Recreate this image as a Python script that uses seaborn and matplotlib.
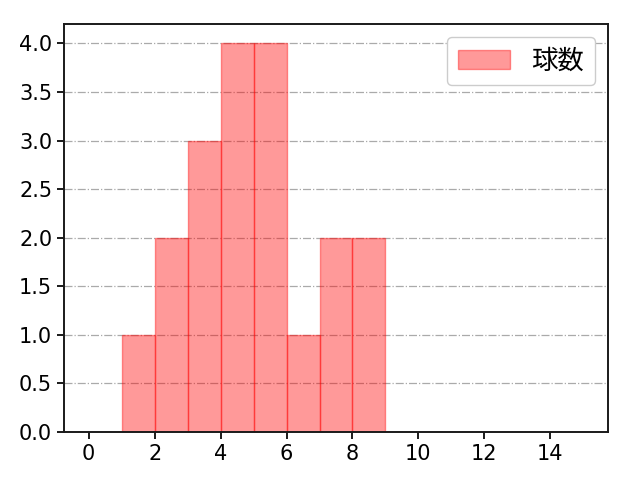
import numpy as np
import pandas as pd
import matplotlib
matplotlib.use("Agg")
import matplotlib.pyplot as plt
import seaborn as sns

# pitch-count histogram: bin centres and counts
bin_centers = [1.5, 2.5, 3.5, 4.5, 5.5, 6.5, 7.5, 8.5]
counts = [1, 2, 3, 4, 4, 1, 2, 2]
bin_edges = [1, 2, 3, 4, 5, 6, 7, 8, 9]
xticks = [0, 2, 4, 6, 8, 10, 12, 14]
label = "球数"

sns.set_style("white")
plt.rcParams['font.family'] = ['DejaVu Sans', 'Noto Sans CJK JP']
plt.rcParams['font.size'] = 15
plt.rcParams['text.color'] = 'black'
plt.rcParams['xtick.color'] = 'black'
plt.rcParams['ytick.color'] = 'black'

df = pd.DataFrame({"x": bin_centers, "w": counts})

fig = plt.figure(figsize=(6.4, 4.8), dpi=100)
ax = fig.add_axes([0.1, 0.1, 0.85, 0.85])
sns.histplot(data=df, x="x", weights="w", bins=bin_edges, stat="count",
             color="red", alpha=0.4, edgecolor="red", linewidth=1,
             label=label, ax=ax)
# make edge share the patch alpha like plt.hist
for p in ax.patches:
    p.set_facecolor((1, 0, 0, 0.4))
    p.set_edgecolor((1, 0, 0, 0.4))

ax.set_xlim(-0.75, 15.75)
ax.set_ylim(0, 4.2)
ax.set_xticks(xticks)
ax.set_yticks(np.arange(0, 4.01, 0.5))
ax.yaxis.grid(True, linestyle="-.", color="#aaaaaa", linewidth=0.9)
ax.xaxis.grid(False)
ax.set_axisbelow(True)
ax.set_xlabel("")
ax.set_ylabel("")
for s in ax.spines.values():
    s.set_color("#1a1a1a")
    s.set_linewidth(1.4)
ax.tick_params(axis="both", which="major", length=5, width=1.4, color="#1a1a1a",
               labelsize=15, labelcolor="black", direction="out",
               bottom=True, left=True)
ax.legend(loc="upper right", prop={"family": ["Noto Sans CJK JP"], "size": 19},
          framealpha=1, edgecolor="#cccccc", labelcolor="black")

fig.savefig("out.png", dpi=100)
